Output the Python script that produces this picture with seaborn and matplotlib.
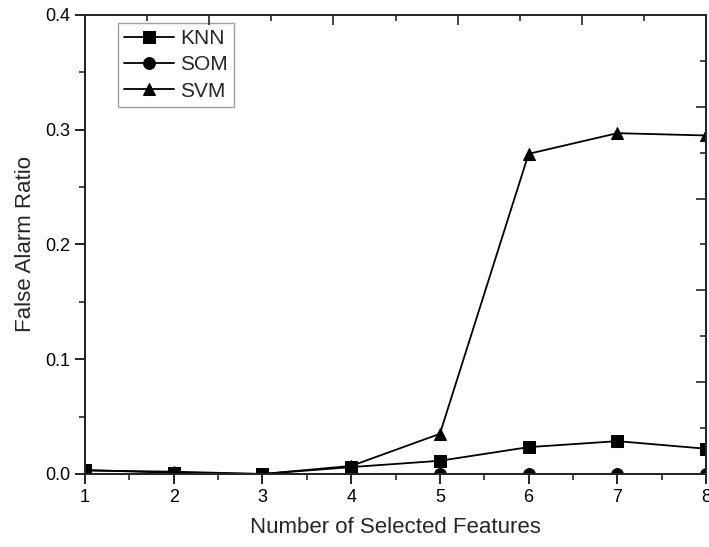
import matplotlib
matplotlib.use("Agg")
import matplotlib.pyplot as plt
import seaborn as sns
import pandas as pd
from matplotlib.ticker import MultipleLocator

# data
features = [1, 2, 3, 4, 5, 6, 7, 8]
knn = [0.0035, 0.001, 0.0, 0.006, 0.0115, 0.0234, 0.0286, 0.022]
som = [0.0, 0.0, 0.0, 0.0, 0.0, 0.0, 0.0, 0.0]
svm = [0.003, 0.002, 0.0, 0.007, 0.035, 0.279, 0.297, 0.295]

df = pd.concat([
    pd.DataFrame({"x": features, "y": knn, "Method": "KNN"}),
    pd.DataFrame({"x": features, "y": som, "Method": "SOM"}),
    pd.DataFrame({"x": features, "y": svm, "Method": "SVM"}),
])

sns.set_style("ticks")
plt.rcParams["font.family"] = ["Liberation Sans", "DejaVu Sans"]

fig = plt.figure(figsize=(7.09, 5.47), dpi=100)
ax = fig.add_axes([0.12, 0.1335, 0.8758, 0.8391])

sns.lineplot(data=df, x="x", y="y", style="Method", color="black",
             markers={"KNN": "s", "SOM": "o", "SVM": "^"}, dashes=False,
             markersize=8.5, linewidth=1.3, markeredgecolor="black", ax=ax)

ax.set_xlim(1, 8)
ax.set_ylim(0, 0.4)
ax.xaxis.set_major_locator(MultipleLocator(1))
ax.xaxis.set_minor_locator(MultipleLocator(0.5))
ax.yaxis.set_major_locator(MultipleLocator(0.1))
ax.yaxis.set_minor_locator(MultipleLocator(0.05))
ax.tick_params(which="major", direction="out", length=7, width=1.2, labelsize=13, colors="black")
ax.tick_params(which="minor", direction="out", length=4, width=1.2)
ax.set_xlabel("Number of Selected Features", fontsize=16, labelpad=8)
ax.set_ylabel("False Alarm Ratio", fontsize=16, labelpad=7)
for s in ax.spines.values():
    s.set_linewidth(1.3)
    s.set_color("black")

# top / right axes with their own ticks, no labels
ax_t = ax.twiny()
ax_t.set_xlim(0, 5)
ax_r = ax.twinx()
ax_r.set_ylim(0, 5)
for a, axis in ((ax_t, ax_t.xaxis), (ax_r, ax_r.yaxis)):
    axis.set_major_locator(MultipleLocator(1))
    axis.set_minor_locator(MultipleLocator(0.5))
    a.tick_params(which="major", direction="in", length=7, width=1.2,
                  labeltop=False, labelright=False)
    a.tick_params(which="minor", direction="in", length=4, width=1.2)
    for s in a.spines.values():
        s.set_linewidth(1.3)
ax_t.tick_params(axis="y", left=False, right=False, labelleft=False, labelright=False)
ax_r.tick_params(axis="x", top=False, bottom=False, labeltop=False, labelbottom=False)

leg = ax.legend(title=None, loc="upper left", bbox_to_anchor=(0.053, 0.983),
                borderaxespad=0, fontsize=15, frameon=True, fancybox=False,
                edgecolor="#888888", handlelength=2.4, borderpad=0.3,
                labelspacing=0.35, handletextpad=0.3)
leg.get_frame().set_linewidth(1.0)
leg.set_zorder(10)

fig.savefig("out.png", dpi=100)
